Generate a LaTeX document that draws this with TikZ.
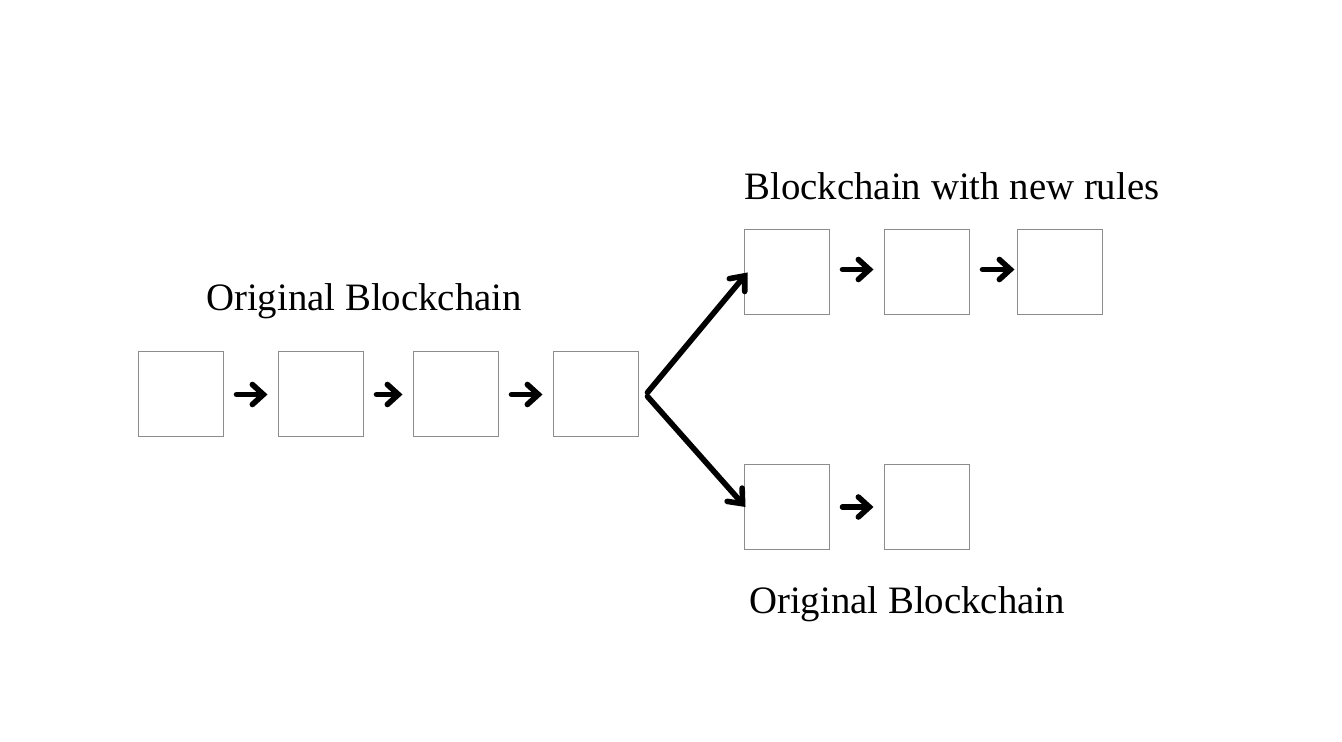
\documentclass[tikz,border=0pt]{standalone}
\usepackage{fontspec}
\setmainfont{Liberation Serif}
\usepackage{tikz}
\usetikzlibrary{arrows.meta}

\begin{document}
\begin{tikzpicture}[x=0.5pt,y=-0.5pt,
    block/.style={draw=black!45,line width=0.5pt,minimum size=42.5pt,
        inner sep=0pt},
    link/.style={-{Straight Barb[length=5.5pt,width=10pt,line cap=round]},
        line width=2.8pt,line cap=round,shorten <=6.5pt,shorten >=5pt},
    fork/.style={-{Straight Barb[length=6pt,width=10pt,line cap=round]},
        line width=2.8pt,line cap=round},
    title/.style={font=\fontsize{19.4}{23}\selectfont}]
    \useasboundingbox (0,0) rectangle (1342,742);

    % original chain
    \node[block] (b1) at (180.5,394.5) {};
    \node[block] (b2) at (320.5,394.5) {};
    \node[block] (b3) at (455.5,394.5) {};
    \node[block] (b4) at (595.5,394.5) {};
    \node[title] (orig) at (364,301) {Original Blockchain};

    % branch with new rules
    \node[block] (n1) at (786.5,272.5) {};
    \node[block] (n2) at (926.5,272.5) {};
    \node[block] (n3) at (1059.5,272.5) {};
    \node[title] (rules) at (952,186) {Blockchain with new rules};

    % branch keeping old rules
    \node[block] (o1) at (786.5,507) {};
    \node[block] (o2) at (926.5,507) {};
    \node[title] (origb) at (907,604) {Original Blockchain};

    \draw[link] (b1) -- (b2);
    \draw[link] (b2) -- (b3);
    \draw[link] (b3) -- (b4);
    \draw[link] ([yshift=1.5pt]n1.east) -- ([yshift=1.5pt]n2.west);
    \draw[link,shorten >=1pt] ([yshift=1.5pt]n2.east) -- ([yshift=1.5pt]n3.west);
    \draw[link] (o1) -- (o2);

    \draw[fork] ([xshift=4.5pt,yshift=1pt]b4.east) -- ([xshift=2pt]n1.west);
    \draw[fork] ([xshift=4.5pt,yshift=-1pt]b4.east) -- ([xshift=1pt]o1.west);

\end{tikzpicture}
\end{document}
